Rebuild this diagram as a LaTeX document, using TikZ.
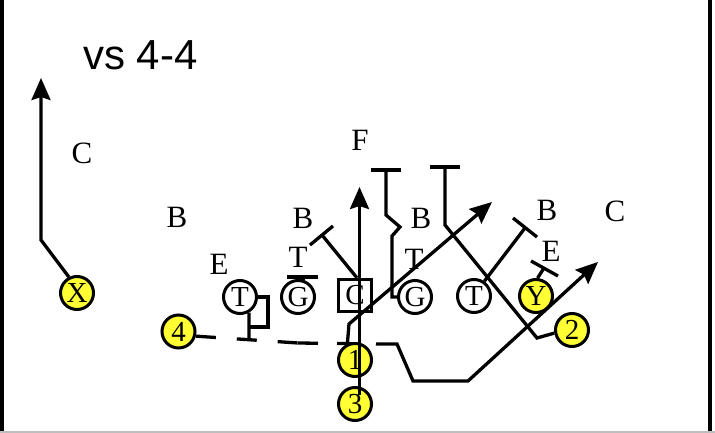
\documentclass[tikz,border=0pt]{standalone}
\usepackage{fontspec}
\setmainfont{Liberation Serif}
\newfontfamily\titlefont{Liberation Sans}
\usetikzlibrary{arrows.meta}
\definecolor{playeryellow}{RGB}{255,255,51}
\definecolor{framegray}{RGB}{190,190,190}
\begin{document}
\begin{tikzpicture}[x=1pt,y=-1pt,
  route/.style={line width=3.3pt, line join=miter},
  arr/.style={route, -{Stealth[length=22pt,width=19pt,inset=3pt]}},
  player/.style={circle, draw, line width=3pt, fill=white, minimum size=33pt, inner sep=0pt, font=\fontsize{29}{29}\selectfont},
  skill/.style={player, fill=playeryellow},
  centerbox/.style={rectangle, draw, line width=3.2pt, fill=white, minimum width=33pt, minimum height=32pt, inner sep=0pt, font=\fontsize{29}{29}\selectfont},
  defender/.style={inner sep=0pt, font=\fontsize{31}{31}\selectfont},
]
\useasboundingbox (0,0) rectangle (715,433);
% frame
\draw[line width=3.8pt] (2,0) -- (2,433);
\draw[line width=3.8pt] (710,0) -- (710,433);
\draw[framegray, line width=1.5pt] (0,432) -- (715,432);

% title
\node[anchor=base west, inner sep=0pt, font=\titlefont\fontsize{42}{42}\selectfont] (title) at (83,70) {vs 4-4};

% motion of 4 (under the other players)
\node[skill] (n4) at (178.5,331.5) {4};
\draw[route, dash pattern=on 20pt off 21pt] (n4.-15) -- (298,343);
\draw[route, dash pattern=on 20pt off 19pt] (298,343) -- (377,344);

% players
\node[skill] (X) at (77,293) {X};
\node[skill] (n1) at (355,360) {1};
\node[skill] (n3) at (355,404) {3};
\node[skill] (n2) at (572,330) {2};
\node[skill] (Y) at (536,296) {Y};
\node[player] (TL) at (240,297) {T};
\node[player] (GL) at (298,297) {G};
\node[centerbox] (Cn) at (355,295.5) {C};
\node[player] (GR) at (415,297) {G};
\node[player] (TR) at (474,296) {T};

% defenders
\node[defender] (dC1) at (82,153) {C};
\node[defender] (dB1) at (177,217) {B};
\node[defender] (dE1) at (219,264) {E};
\node[defender] (dB2) at (303,218) {B};
\node[defender] (dT1) at (298,257) {T};
\node[defender] (dF) at (360,140) {F};
\node[defender] (dB3) at (421,218) {B};
\node[defender] (dT2) at (414,259) {T};
\node[defender] (dB4) at (547,210) {B};
\node[defender] (dE2) at (551,251) {E};
\node[defender] (dC2) at (615,211) {C};

% routes
\draw[arr] (377,344) -- (397,344) -- (413,381) -- (468,381) -- (598,262);
\draw[arr] (n1.115) -- (349,324) -- (492,202);
\coordinate (s3) at (359.5,395);
\draw[arr] (s3) -- (359.5,187);
\draw[arr] (X.117) -- (41,240) -- (41,78);
\draw[route] (n2.190) -- (537,338) -- (445,225) -- (445,167);
\draw[route] (430,167) -- (460,167);

% blocks
\draw[route] ([xshift=2pt]Cn.north) -- (322,235);
\draw[route] (310,245) -- (333,226);
\draw[route] (303,281) -- (303,277);
\draw[route] (287,277) -- (318,277);
\draw[route] (GR.west) -- (392,297) -- (392,236) -- (400,227) -- (386,215) -- (386,170);
\draw[route] (371,170) -- (401,170);
\draw[route] (TR.55) -- (525,228);
\draw[route] (513,218) -- (537,237);
\draw[route] (Y.85) -- (544,268);
\draw[route] (531,261) -- (558,276);
\draw[route] (TL.east) -- (268,297) -- (268,327) -- (249,327);
\draw[route] (TL.-60) -- (249,340);
\end{tikzpicture}
\end{document}
